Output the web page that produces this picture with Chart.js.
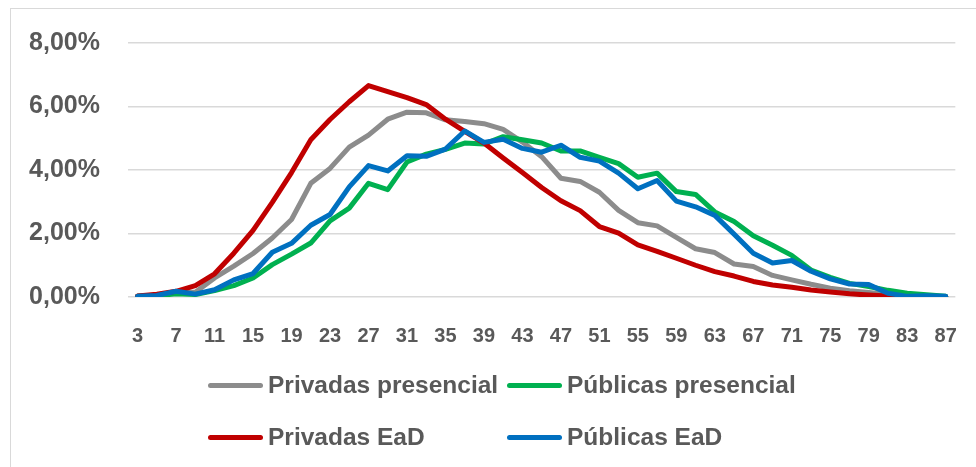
<!DOCTYPE html>
<html>
<head>
<meta charset="utf-8">
<script src="https://cdn.jsdelivr.net/npm/chart.js@4.4.1/dist/chart.umd.min.js"></script>
<style>
  html, body { margin: 0; padding: 0; background: #fff; overflow: hidden; }
  #wrap { position: relative; width: 976px; height: 467px; }
  #frame { position: absolute; left: 10px; top: 8px; width: 980px; height: 470px; border: 1px solid #d9d9d9; box-sizing: border-box; }
  #chart { position: absolute; left: 0; top: 0; }
  .lg-line { position: absolute; height: 5px; width: 55px; border-radius: 3px; }
  .lg-text { position: absolute; font-family: "Liberation Sans", Arial, sans-serif; font-weight: bold; font-size: 24.5px; color: #595959; line-height: 28px; white-space: nowrap; }
</style>
</head>
<body>
<div id="wrap">
  <div id="frame"></div>
  <canvas id="chart" width="976" height="467"></canvas>
  <div id="legend"></div>
</div>
<script>
const ages = [3, 5, 7, 9, 11, 13, 15, 17, 19, 21, 23, 25, 27, 29, 31, 33, 35, 37, 39, 41, 43, 45,
              47, 49, 51, 53, 55, 57, 59, 61, 63, 65, 67, 69, 71, 73, 75, 77, 79, 81, 83, 85, 87];

// percent of graduates at each age
const privadasPresencial = [0.02, 0.06, 0.15, 0.15, 0.60, 0.97, 1.37, 1.86, 2.44, 3.58, 4.05, 4.72, 5.10, 5.60, 5.82,
  5.80, 5.58, 5.53, 5.46, 5.28, 4.88, 4.42, 3.74, 3.64, 3.30, 2.73, 2.34, 2.24, 1.88, 1.52, 1.40, 1.04, 0.96, 0.68,
  0.54, 0.40, 0.28, 0.20, 0.14, 0.08, 0.03, 0.02, 0.01];
const publicasPresencial = [0.02, 0.04, 0.10, 0.08, 0.20, 0.36, 0.60, 1.02, 1.35, 1.70, 2.40, 2.80, 3.58, 3.38, 4.25,
  4.50, 4.65, 4.85, 4.82, 5.05, 4.95, 4.85, 4.60, 4.60, 4.40, 4.20, 3.77, 3.90, 3.32, 3.23, 2.68, 2.38, 1.93, 1.63,
  1.31, 0.85, 0.62, 0.43, 0.33, 0.21, 0.12, 0.07, 0.02];
const privadasEad = [0.03, 0.09, 0.18, 0.36, 0.73, 1.38, 2.10, 2.98, 3.92, 4.95, 5.59, 6.15, 6.66, 6.47, 6.28,
  6.06, 5.60, 5.22, 4.85, 4.38, 3.92, 3.45, 3.03, 2.72, 2.22, 2.01, 1.64, 1.44, 1.22, 1.00, 0.80, 0.66, 0.49, 0.38,
  0.31, 0.22, 0.16, 0.10, 0.06, 0.03, 0.00, 0.01, 0.01];
const publicasEad = [0.02, 0.05, 0.18, 0.09, 0.23, 0.54, 0.74, 1.41, 1.69, 2.26, 2.60, 3.47, 4.14, 3.97, 4.45,
  4.43, 4.66, 5.23, 4.87, 4.97, 4.68, 4.56, 4.78, 4.40, 4.28, 3.90, 3.41, 3.67, 3.02, 2.84, 2.57, 1.98, 1.38, 1.07,
  1.15, 0.81, 0.57, 0.41, 0.39, 0.12, 0.02, 0.04, 0.02];

const seriesNames = ["Privadas presencial", "Públicas presencial", "Privadas EaD", "Públicas EaD"];
const seriesColors = ["#8c8c8c", "#00b050", "#c00000", "#0070c0"];
const seriesValues = [privadasPresencial, publicasPresencial, privadasEad, publicasEad];

const yMax = 8;
const yStep = 2;

const fontFamily = '"Liberation Sans", Arial, sans-serif';
const textColor = "#595959";

const datasets = seriesNames.map(function (name, i) {
    return {
        label: name,
        data: seriesValues[i],
        borderColor: seriesColors[i],
        backgroundColor: seriesColors[i],
        borderWidth: 5,
        pointRadius: 0,
        tension: 0,
        fill: false,
        borderJoinStyle: "round",
        borderCapStyle: "round",
        order: seriesNames.length - i   // last series on top, like Excel
    };
});

new Chart(document.getElementById("chart"), {
    type: "line",
    data: {
        labels: ages.map(String),
        datasets: datasets
    },
    options: {
        responsive: false,
        animation: false,
        layout: {
            padding: { left: 0, top: 39, right: 15, bottom: 120 }
        },
        plugins: {
            legend: { display: false },
            tooltip: { enabled: false }
        },
        scales: {
            x: {
                offset: true,
                grid: { display: false },
                border: { display: false },
                ticks: {
                    autoSkip: false,
                    maxRotation: 0,
                    padding: 19,
                    color: textColor,
                    font: { family: fontFamily, size: 20, weight: "bold" },
                    callback: function (value, index) {
                        return index % 2 === 0 ? this.getLabelForValue(value) : "";
                    }
                },
                afterFit: function (scale) { scale.height = 50; }
            },
            y: {
                min: 0,
                max: yMax,
                grid: { color: "#d9d9d9", lineWidth: 1.5, drawTicks: false },
                border: { display: false },
                ticks: {
                    stepSize: yStep,
                    padding: 28,
                    color: textColor,
                    font: { family: fontFamily, size: 25, weight: "bold" },
                    callback: function (value) {
                        return value.toFixed(2).replace(".", ",") + "%";
                    }
                },
                afterFit: function (scale) { scale.width = 128; }
            }
        }
    }
});

// legend laid out in two columns, Excel style
const legend = document.getElementById("legend");
const colX = [208, 507];
const rowY = [385, 437];
seriesNames.forEach(function (name, i) {
    const x = colX[i % 2];
    const y = rowY[Math.floor(i / 2)];
    const line = document.createElement("div");
    line.className = "lg-line";
    line.style.left = x + "px";
    line.style.top = (y - 2.5) + "px";
    line.style.background = seriesColors[i];
    legend.appendChild(line);
    const txt = document.createElement("div");
    txt.className = "lg-text";
    txt.style.left = (x + 60) + "px";
    txt.style.top = (y - 14) + "px";
    txt.textContent = name;
    legend.appendChild(txt);
});
</script>
</body>
</html>
